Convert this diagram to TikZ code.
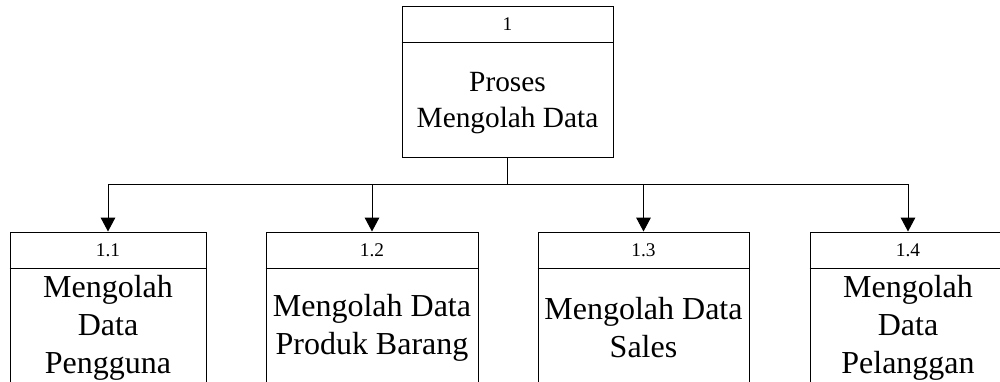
\documentclass[tikz,border=0pt]{standalone}
\usepackage{fontspec}
\setmainfont{Liberation Serif}
\usetikzlibrary{arrows.meta}
\tikzset{
	proc/.style={draw, rectangle, inner sep=0pt, line width=0.75pt},
	numtext/.style={font=\fontsize{14.5}{16}\selectfont, inner sep=0pt},
	toptext/.style={font=\fontsize{22}{27}\selectfont, align=center, inner sep=0pt},
	bodytext/.style={font=\fontsize{24}{28.5}\selectfont, align=center, inner sep=0pt},
	flow/.style={line width=0.75pt, -{Triangle[width=11pt,length=10.5pt]}}
}
\begin{document}
\begin{tikzpicture}[x=0.75pt, y=0.75pt]
		 	\clip (0, 0) rectangle (1000, -382);

		 	\node[proc, minimum width=158.25pt, minimum height=113.25pt] (p1) at (507.5, -81.5){};
		 		\draw[line width=0.75pt]([yshift=-27.75pt]p1.north west) to ([yshift=-27.75pt]p1.north east);
		 		\node[numtext] (n1) at (507.5, -24.5){1};
		 		\node[toptext] (t1) at (507.5, -103){Proses\\Mengolah Data};

		 	\node[proc, minimum width=147pt, minimum height=117.75pt] (p11) at (108, -310.5){};
		 	\node[proc, minimum width=159pt, minimum height=117.75pt] (p12) at (372, -310.5){};
		 	\node[proc, minimum width=158.25pt, minimum height=117.75pt] (p13) at (643.5, -310.5){};
		 	\node[proc, minimum width=147pt, minimum height=117.75pt] (p14) at (908, -310.5){};

				 \draw[line width=0.75pt]([yshift=-27.75pt]p11.north west) to ([yshift=-27.75pt]p11.north east);
				 \draw[line width=0.75pt]([yshift=-27.75pt]p12.north west) to ([yshift=-27.75pt]p12.north east);
				 \draw[line width=0.75pt]([yshift=-27.75pt]p13.north west) to ([yshift=-27.75pt]p13.north east);
				 \draw[line width=0.75pt]([yshift=-27.75pt]p14.north west) to ([yshift=-27.75pt]p14.north east);

			 \node[numtext] (n11) at (108, -250.5){1.1};
			 \node[numtext] (n12) at (372, -250.5){1.2};
			 \node[numtext] (n13) at (643.5, -250.5){1.3};
			 \node[numtext] (n14) at (908, -250.5){1.4};

			 \node[bodytext] (t11) at (108, -328){Mengolah\\Data\\Pengguna};
			 \node[bodytext] (t12) at (372, -328){Mengolah Data\\Produk Barang};
			 \node[bodytext] (t13) at (643.5, -328){Mengolah Data\\Sales};
			 \node[bodytext] (t14) at (908, -328){Mengolah\\Data\\Pelanggan};

			 \coordinate (j) at (p1.south |- 0, -184);
			 \draw[line width=0.75pt](p1.south) to (j);
			 \draw[flow](j) -| (p11.north);
			 \draw[flow](j) -| (p12.north);
			 \draw[flow](j) -| (p13.north);
			 \draw[flow](j) -| (p14.north);

		\end{tikzpicture}
\end{document}
